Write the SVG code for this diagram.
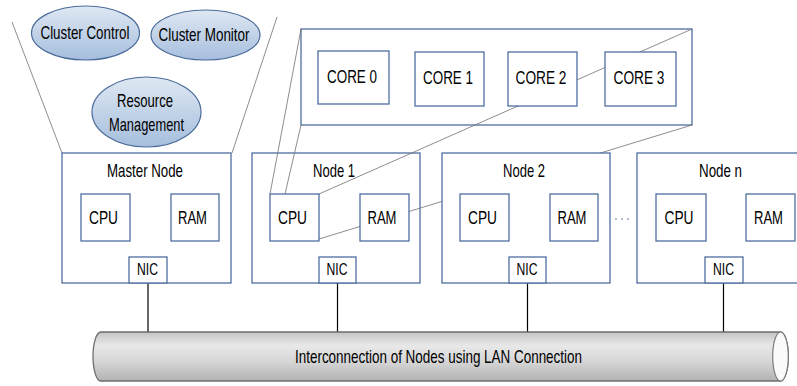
<svg xmlns="http://www.w3.org/2000/svg" width="797" height="386" viewBox="0 0 797 386">
<defs>
<linearGradient id="gEll" x1="0" y1="0" x2="0" y2="1">
<stop offset="0" stop-color="#dfe8f3"/>
<stop offset="1" stop-color="#a6bedd"/>
</linearGradient>
<linearGradient id="gPipe" x1="0" y1="0" x2="0" y2="1">
<stop offset="0" stop-color="#c4c4c4"/>
<stop offset="0.28" stop-color="#e8e8e8"/>
<stop offset="0.6" stop-color="#d6d6d6"/>
<stop offset="1" stop-color="#b2b2b2"/>
</linearGradient>
</defs>
<style>
text{font-family:"Liberation Sans",Arial,sans-serif;font-size:18.5px;fill:#000;text-anchor:middle}
.nic{font-size:17px}
.box{fill:#fff;stroke:#4f6fa0;stroke-width:1.3}
.ell{fill:url(#gEll);stroke:#4a6b9a;stroke-width:1.2}
.con{stroke:#707070;stroke-width:0.8;fill:none}
.lan{stroke:#000;stroke-width:1.2;fill:none}
</style>

<g id="cluster-control"><ellipse class="ell" cx="85.5" cy="33" rx="54" ry="27"/><text x="85" y="39" textLength="89" lengthAdjust="spacingAndGlyphs">Cluster Control</text></g>
<g id="cluster-monitor"><ellipse class="ell" cx="205.5" cy="35" rx="54.5" ry="25"/><text x="204" y="41" textLength="91" lengthAdjust="spacingAndGlyphs">Cluster Monitor</text></g>
<g id="resource-management"><ellipse class="ell" cx="146.5" cy="112" rx="54.5" ry="35"/><text x="145" y="107" textLength="56" lengthAdjust="spacingAndGlyphs">Resource</text><text x="146.5" y="131" textLength="75" lengthAdjust="spacingAndGlyphs">Management</text></g>

<g id="node1-frame"><rect class="box" x="252" y="153" width="168" height="130"/><text x="334" y="177" textLength="42" lengthAdjust="spacingAndGlyphs">Node 1</text></g>
<g id="cores-frame"><rect class="box" x="301" y="29" width="391" height="96"/></g>

<g id="connectors">
<line class="con" x1="12" y1="22" x2="62" y2="153"/>
<line class="con" x1="277" y1="17" x2="232" y2="153"/>
<line class="con" x1="301" y1="29" x2="270" y2="194"/>
<line class="con" x1="301" y1="125" x2="285" y2="194"/>
<line class="con" x1="692" y1="29" x2="319" y2="194"/>
<line class="con" x1="692" y1="125" x2="319" y2="239"/>
<line stroke="#5a7aa8" stroke-width="1" stroke-dasharray="2 4" x1="615" y1="219" x2="633" y2="219"/>
<line class="lan" x1="148" y1="283" x2="148" y2="332"/>
<line class="lan" x1="337.5" y1="283" x2="337.5" y2="332"/>
<line class="lan" x1="527.5" y1="283" x2="527.5" y2="332"/>
<line class="lan" x1="723.5" y1="283" x2="723.5" y2="332"/>
</g>

<g id="core0"><rect class="box" x="318" y="51" width="71" height="53"/><text x="352" y="83" textLength="50" lengthAdjust="spacingAndGlyphs">CORE 0</text></g>
<g id="core1"><rect class="box" x="415" y="52" width="69" height="54"/><text x="448" y="84" textLength="50" lengthAdjust="spacingAndGlyphs">CORE 1</text></g>
<g id="core2"><rect class="box" x="508" y="52" width="69" height="54"/><text x="541" y="84" textLength="51" lengthAdjust="spacingAndGlyphs">CORE 2</text></g>
<g id="core3"><rect class="box" x="605" y="52" width="71" height="54"/><text x="639" y="84" textLength="51" lengthAdjust="spacingAndGlyphs">CORE 3</text></g>

<g id="master-node">
<rect class="box" x="62" y="153" width="169" height="130"/>
<text x="145" y="177" textLength="76" lengthAdjust="spacingAndGlyphs">Master Node</text>
<rect class="box" x="81" y="194" width="49" height="47"/><text x="103.5" y="224" textLength="29" lengthAdjust="spacingAndGlyphs">CPU</text>
<rect class="box" x="171" y="194" width="48" height="47"/><text x="192.5" y="224" textLength="29" lengthAdjust="spacingAndGlyphs">RAM</text>
<rect class="box" x="129" y="257" width="38" height="26"/><text class="nic" x="147.5" y="275" textLength="21" lengthAdjust="spacingAndGlyphs">NIC</text>
</g>

<g id="node1">
<rect class="box" x="270" y="194" width="49" height="47"/><text x="292.5" y="224" textLength="29" lengthAdjust="spacingAndGlyphs">CPU</text>
<rect class="box" x="360" y="194" width="49" height="47"/><text x="382" y="224" textLength="29" lengthAdjust="spacingAndGlyphs">RAM</text>
<rect class="box" x="319" y="257" width="37" height="26"/><text class="nic" x="337" y="275" textLength="21" lengthAdjust="spacingAndGlyphs">NIC</text>
</g>

<g id="node2">
<rect class="box" x="442" y="153" width="168" height="130"/>
<text x="524" y="177" textLength="42" lengthAdjust="spacingAndGlyphs">Node 2</text>
<rect class="box" x="460" y="194" width="49" height="47"/><text x="482.5" y="224" textLength="29" lengthAdjust="spacingAndGlyphs">CPU</text>
<rect class="box" x="550" y="194" width="48" height="47"/><text x="572" y="224" textLength="29" lengthAdjust="spacingAndGlyphs">RAM</text>
<rect class="box" x="509" y="257" width="37" height="26"/><text class="nic" x="527" y="275" textLength="21" lengthAdjust="spacingAndGlyphs">NIC</text>
</g>

<g id="node-n">
<rect class="box" x="637" y="153" width="168" height="130"/>
<text x="720.5" y="177" textLength="43" lengthAdjust="spacingAndGlyphs">Node n</text>
<rect class="box" x="656" y="194" width="50" height="47"/><text x="679" y="224" textLength="29" lengthAdjust="spacingAndGlyphs">CPU</text>
<rect class="box" x="746" y="194" width="49" height="47"/><text x="768.5" y="224" textLength="29" lengthAdjust="spacingAndGlyphs">RAM</text>
<rect class="box" x="705" y="257" width="38" height="26"/><text class="nic" x="723.5" y="275" textLength="21" lengthAdjust="spacingAndGlyphs">NIC</text>
</g>

<g id="lan-pipe">
<path d="M100.8,332 H780.5 A7.8,24.5 0 0 1 780.5,381 H100.8 A7.8,24.5 0 0 1 100.8,332 Z" fill="url(#gPipe)" stroke="#6e6e6e" stroke-width="1.3"/>
<ellipse cx="780.5" cy="356.5" rx="7.8" ry="24.5" fill="#fafafa" stroke="#7a7a7a" stroke-width="1.2"/>
<text x="438.5" y="363" textLength="287" lengthAdjust="spacingAndGlyphs">Interconnection of Nodes using LAN Connection</text>
</g>
</svg>
